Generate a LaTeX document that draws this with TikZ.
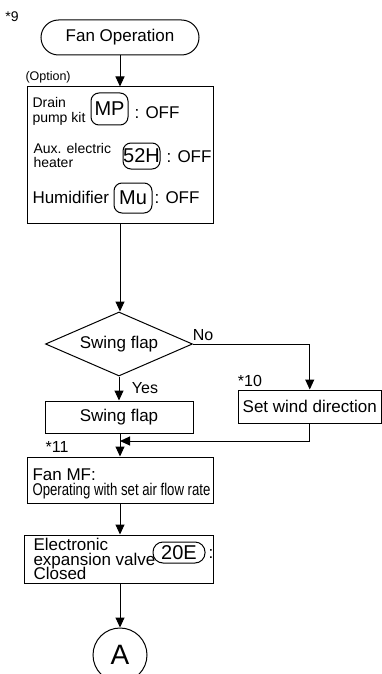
\documentclass[tikz,border=0pt]{standalone}
\usepackage{fontspec}
\setmainfont{Liberation Sans}
\usetikzlibrary{shapes.geometric,arrows.meta}
\begin{document}
\begin{tikzpicture}[x=1pt,y=-1pt,
  line width=1pt,
  arr/.style={-{Triangle[length=10pt,width=9pt]}},
  box/.style={draw,rectangle,inner sep=0pt},
  pill/.style={draw,rectangle,rounded corners=8pt,inner sep=0pt},
  t12/.style={font=\fontsize{12.5}{12.5}\selectfont},
  t14/.style={font=\fontsize{14}{14}\selectfont},
  t16/.style={font=\fontsize{16}{16}\selectfont},
  t17/.style={font=\fontsize{17}{17}\selectfont},
  t20/.style={font=\fontsize{20}{20}\selectfont},
  lbl/.style={inner sep=0pt,anchor=base west,text depth=0pt}
]
\useasboundingbox (0,0) rectangle (382,674);
\clip (0,0) rectangle (382,674);

% main shapes
\node[box,rounded corners=17.5pt,minimum width=158pt,minimum height=35pt,t17] (start) at (120,37.5) {Fan Operation};
\node[box,minimum width=186pt,minimum height=136pt] (opt) at (120,155) {};
\node[draw,diamond,aspect=2.3,inner sep=0pt,minimum width=147pt,minimum height=64pt,t17] (dia) at (119,344) {Swing flap};
\node[box,minimum width=148pt,minimum height=32pt,t17] (swbox) at (119,417) {Swing flap};
\node[box,minimum width=143.5pt,minimum height=33pt,t17] (setbox) at (309.75,406.5) {Set wind direction};
\node[box,minimum width=186pt,minimum height=46pt] (fanbox) at (120,480) {};
\node[box,minimum width=189pt,minimum height=48pt] (eevbox) at (118.5,559) {};
\node[draw,circle,minimum size=54pt,inner sep=0pt,font=\fontsize{28}{28}\selectfont] (circ) at (120,655) {A};

% labels outside
\node[t14,inner sep=0pt] (n9) at (12,17) {*9};
\node[lbl,t12] (optl) at (25,81) {(Option)};
\node[t16,inner sep=0pt] (no) at (203,335) {No};
\node[t16,inner sep=0pt] (yes) at (145,388) {Yes};
\node[t16,inner sep=0pt] (n10) at (250,381) {*10};
\node[t16,inner sep=0pt] (n11) at (57,447) {*11};

% option box contents
\node[lbl,t14] (d1) at (32,108) {Drain};
\node[lbl,t14] (d2) at (32,122) {pump kit};
\node[pill,minimum width=37pt,minimum height=32pt,t20] (mp) at (109.5,109) {MP};
\node[lbl,t17] (o1) at (134,118) {: OFF};
\node[lbl,t14] (a1) at (33,153) {Aux. electric};
\node[lbl,t14] (a2) at (33,167) {heater};
\node[pill,minimum width=37pt,minimum height=26pt,t20] (h52) at (141.5,156) {52H};
\node[lbl,t17] (o2) at (166,162) {: OFF};
\node[lbl,t17] (hu) at (32,203) {Humidifier};
\node[pill,minimum width=38pt,minimum height=30pt,t20] (mu) at (133,198) {Mu};
\node[lbl,t17] (o3) at (154,203) {: OFF};

% fan box contents
\node[lbl,t17] (f1) at (32,480) {Fan MF:};
\node[lbl] (f2) at (32,495) {\scalebox{0.775}[1]{\fontsize{17}{17}\selectfont Operating with set air flow rate}};

% eev box contents
\node[lbl,t17] (e1) at (33,550) {Electronic};
\node[lbl,t17] (e2) at (33,565) {expansion valve};
\node[lbl,t17] (e3) at (33,579.5) {Closed};
\node[pill,rounded corners=10pt,minimum width=52pt,minimum height=21pt,t20] (v20) at (179,552.5) {20E};
\node[lbl,t17] (ec) at (208,558) {:};

% connectors
\coordinate (m) at (120,441);
\draw[arr] (start.south) -- (opt.north);
\draw[arr] (opt.south) -- (opt.south |- dia.north);
\draw[arr] (dia.east) -| (setbox.north);
\draw[arr] (dia.south) -- (dia.south |- swbox.north);
\draw[arr] (swbox.south -| fanbox.north) -- (fanbox.north);
\draw[arr] (setbox.south) |- (m);
\draw[arr] (fanbox.south) -- (fanbox.south |- eevbox.north);
\draw[arr] (eevbox.south -| circ.north) -- (circ.north);
\end{tikzpicture}
\end{document}
